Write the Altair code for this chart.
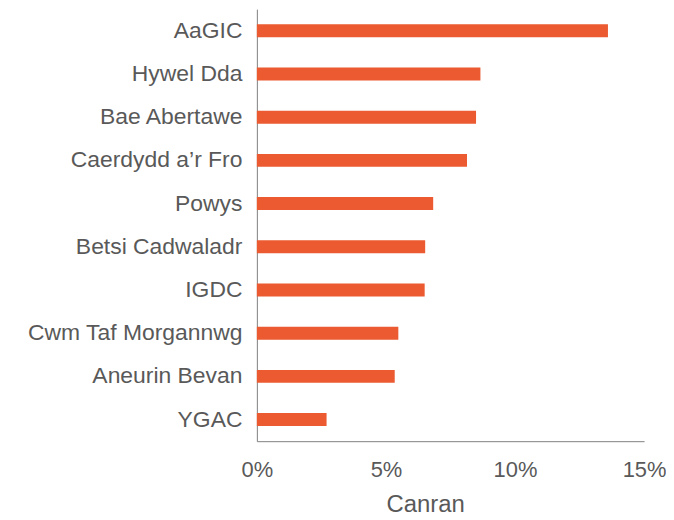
import altair as alt
import pandas as pd

boards = ["AaGIC", "Hywel Dda", "Bae Abertawe", "Caerdydd a\u2019r Fro", "Powys",
          "Betsi Cadwaladr", "IGDC", "Cwm Taf Morgannwg", "Aneurin Bevan", "YGAC"]
values = [0.136, 0.0866, 0.0849, 0.0814, 0.0683, 0.0652, 0.065, 0.0548, 0.0534, 0.027]

df = pd.DataFrame({"board": boards, "value": values})

FONT = "Liberation Sans"

chart = alt.Chart(df).mark_bar(size=13, color="#EB5A31").encode(
    x=alt.X("value:Q",
            scale=alt.Scale(domain=[0, 0.15], nice=False, zero=True),
            axis=alt.Axis(title="Canran", format=".0%", values=[0, 0.05, 0.10, 0.15],
                          grid=False, ticks=False, domainColor="#808080", domainWidth=1,
                          labelFont=FONT, labelFontSize=22, labelColor="#595959",
                          labelPadding=18, labelFlush=False,
                          titleFont=FONT, titleFontSize=24, titleFontWeight="normal",
                          titleColor="#595959", titleX=169, titleY=52,
                          titleBaseline="top")),
    y=alt.Y("board:N", sort=boards,
            scale=alt.Scale(paddingInner=0, paddingOuter=0),
            axis=alt.Axis(title=None, ticks=False, domainColor="#808080", domainWidth=1,
                          labelFont=FONT, labelFontSize=23, labelColor="#595959",
                          labelPadding=15, labelLimit=400)),
).properties(
    width=389, height=434,
    background="white",
    autosize=alt.AutoSizeParams(type="none"),
    padding={"left": 250, "top": 0, "right": 22, "bottom": 74},
).configure_view(strokeWidth=0, stroke="transparent")

chart.save("out.html", embed_options={"renderer": "svg", "actions": False})
